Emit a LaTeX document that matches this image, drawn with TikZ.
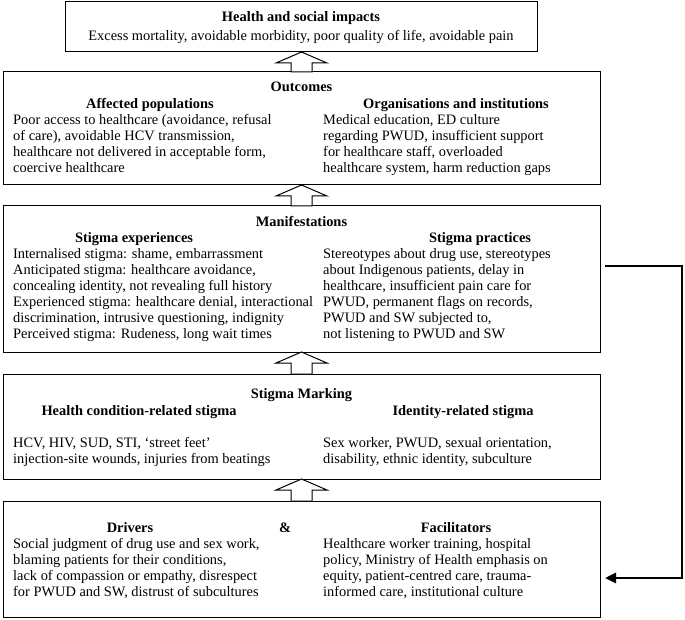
\documentclass[tikz,border=0pt]{standalone}
\usepackage{fontspec}
\setmainfont{Liberation Serif}
\usetikzlibrary{calc,arrows.meta}
\newcommand\bodyfont{\fontsize{14.4}{16}\selectfont}
\newcommand\hollowup[2]{%
  \draw[hol] (#2.north |- #1.south) -- ++(25.5,11) -- ++(-15,0)
    -- ($(#2.north)+(10.5,0)$) -- ($(#2.north)+(-10.5,0)$)
    -- ($(#2.north |- #1.south)+(-10.5,11)$) -- ++(-15,0) -- cycle;}
\begin{document}
\begin{tikzpicture}[x=1pt,y=-1pt,
  box/.style={draw, line width=1pt, anchor=north west, inner sep=0pt, outer sep=0pt},
  body/.style={anchor=north west, inner sep=0pt, align=left, font=\bodyfont},
  head/.style={anchor=base, inner sep=0pt, font=\bodyfont\bfseries},
  plain/.style={anchor=base, inner sep=0pt, font=\bodyfont},
  hol/.style={draw, fill=white, line width=1pt, line join=miter},
  link/.style={line width=2.6pt, -{Triangle[length=11pt,width=10pt]}}]
\useasboundingbox (0,0) rectangle (685,620);

% boxes
\node[box, minimum width=472pt, minimum height=50pt] (b1) at (65,2) {};
\node[box, minimum width=597pt, minimum height=113pt] (b2) at (3,72) {};
\node[box, minimum width=597pt, minimum height=146pt] (b3) at (3,206) {};
\node[box, minimum width=597pt, minimum height=105pt] (b4) at (3,374) {};
\node[box, minimum width=597pt, minimum height=116pt] (b5) at (3,501) {};

% box 1
\node[head] (t1) at (301,21.5) {Health and social impacts};
\node[plain] (x1) at (301,40.5) {Excess mortality, avoidable morbidity, poor quality of life, avoidable pain};

% box 2
\node[head] (t2) at (301.5,91.5) {Outcomes};
\node[head] (h2a) at (150,108.5) {Affected populations};
\node[head] (h2b) at (456,108.5) {Organisations and institutions};
\node[body] (l2a) at (13,113.3) {\strut Poor access to healthcare (avoidance, refusal\\
of care), avoidable HCV transmission,\\
healthcare not delivered in acceptable form,\\
coercive healthcare};
\node[body] (l2b) at (323,113.3) {\strut Medical education, ED culture\\
regarding PWUD, insufficient support\\
for healthcare staff, overloaded\\
healthcare system, harm reduction gaps};

% box 3
\node[head] (t3) at (301.5,226.5) {Manifestations};
\node[head] (h3a) at (134,242.5) {Stigma experiences};
\node[head] (h3b) at (480,242.5) {Stigma practices};
\node[body] (l3a) at (13,246.8) {\strut Internalised stigma: shame, embarrassment\\
Anticipated stigma: healthcare avoidance,\\
concealing identity, not revealing full history\\
Experienced stigma: healthcare denial, interactional\\
discrimination, intrusive questioning, indignity\\
Perceived stigma: Rudeness, long wait times};
\node[body] (l3b) at (323,246.8) {\strut Stereotypes about drug use, stereotypes\\
about Indigenous patients, delay in\\
healthcare, insufficient pain care for\\
PWUD, permanent flags on records,\\
PWUD and SW subjected to,\\
not listening to PWUD and SW};

% box 4
\node[head] (t4) at (301.5,398.5) {Stigma Marking};
\node[head] (h4a) at (139,415.5) {Health condition-related stigma};
\node[head] (h4b) at (463,415.5) {Identity-related stigma};
\node[body] (l4a) at (13,436.3) {\strut HCV, HIV, SUD, STI, ‘street feet’\\
injection-site wounds, injuries from beatings};
\node[body] (l4b) at (323,436.3) {\strut Sex worker, PWUD, sexual orientation,\\
disability, ethnic identity, subculture};

% box 5
\node[head] (h5a) at (130,532.5) {Drivers};
\node[head] (amp) at (285,532.5) {\&};
\node[head] (h5b) at (456,532.5) {Facilitators};
\node[body] (l5a) at (13,537.3) {\strut Social judgment of drug use and sex work,\\
blaming patients for their conditions,\\
lack of compassion or empathy, disrespect\\
for PWUD and SW, distrust of subcultures};
\node[body] (l5b) at (323,537.3) {\strut Healthcare worker training, hospital\\
policy, Ministry of Health emphasis on\\
equity, patient-centred care, trauma-\\
informed care, institutional culture};

% hollow arrows
\hollowup{b1}{b2}
\hollowup{b2}{b3}
\hollowup{b3}{b4}
\hollowup{b4}{b5}

% feedback connector
\coordinate (c1) at (605,266);
\coordinate (c2) at (605,578);
\draw[link] (c1) -- ++(77,0) |- (c2);
\end{tikzpicture}
\end{document}
